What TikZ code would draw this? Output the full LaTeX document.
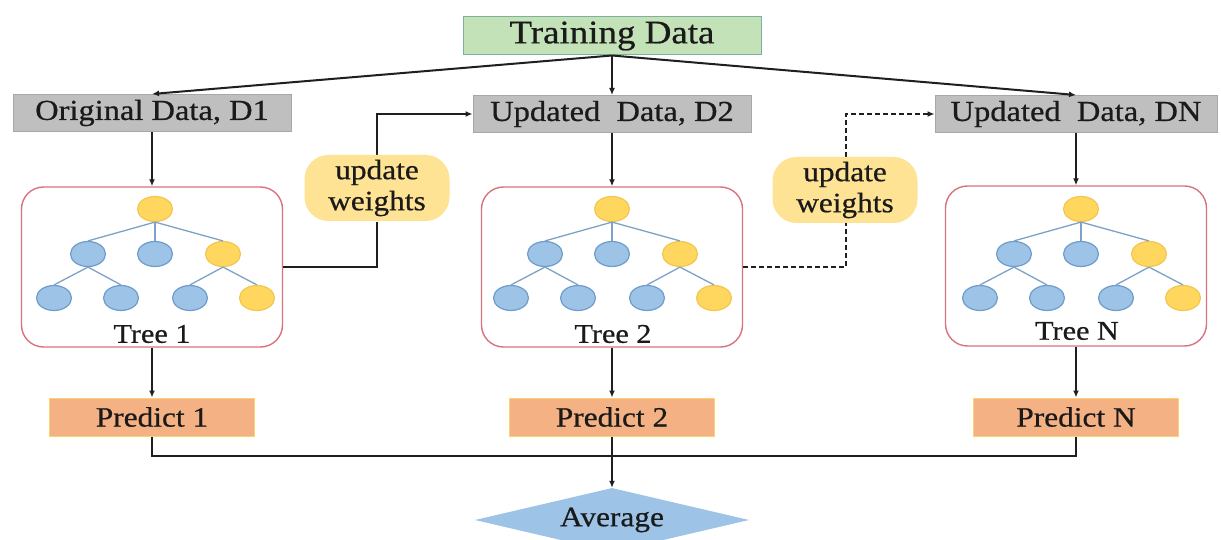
\documentclass[tikz,border=0pt]{standalone}
\usepackage{fontspec}
\setmainfont{Liberation Serif}[FakeStretch=1.12,FakeBold=0.6]
\usetikzlibrary{arrows.meta,shapes.geometric}

\definecolor{ink}{HTML}{1A1A1A}
\definecolor{greenfill}{HTML}{C4E2B8}
\definecolor{greenline}{HTML}{7FAF9E}
\definecolor{grayfill}{HTML}{BFBFBF}
\definecolor{grayline}{HTML}{A8A8A8}
\definecolor{treered}{HTML}{D9737E}
\definecolor{orangefill}{HTML}{F4B183}
\definecolor{orangeline}{HTML}{F9D36E}
\definecolor{bubblefill}{HTML}{FFE394}
\definecolor{bluefill}{HTML}{9DC3E6}
\definecolor{blueline}{HTML}{6E9CCB}
\definecolor{yellowfill}{HTML}{FFD75E}
\definecolor{yellowline}{HTML}{F2C650}
\definecolor{branch}{HTML}{7EA2C6}

% one decision tree: #1 name prefix, #2 x of the root
\newcommand\drawtree[2]{%
  \node[ynode] (#1r) at (#2,209) {};
  \node[bnode] (#1a) at (#2-67,254) {};
  \node[bnode] (#1b) at (#2,254) {};
  \node[ynode] (#1c) at (#2+68,254) {};
  \node[bnode] (#1d) at (#2-101,298) {};
  \node[bnode] (#1e) at (#2-34,298) {};
  \node[bnode] (#1f) at (#2+35,298) {};
  \node[ynode] (#1g) at (#2+102,298) {};
  \draw[branchline] (#1r.south) -- (#1a.north);
  \draw[branchline] (#1r.south) -- (#1b.north);
  \draw[branchline] (#1r.south) -- (#1c.north);
  \draw[branchline] (#1a.south) -- (#1d.north);
  \draw[branchline] (#1a.south) -- (#1e.north);
  \draw[branchline] (#1c.south) -- (#1f.north);
  \draw[branchline] (#1c.south) -- (#1g.north);
}

\begin{document}
\begin{tikzpicture}[x=1pt,y=-1pt,
  every node/.style={text=ink, inner sep=0pt},
  topbox/.style={draw=greenline, fill=greenfill, line width=1pt,
    minimum width=298pt, minimum height=38pt, font=\fontsize{33}{36}\selectfont},
  databox/.style={draw=grayline, fill=grayfill, line width=1pt,
    minimum height=37pt, font=\fontsize{29}{32}\selectfont},
  treebox/.style={draw=treered, fill=white, line width=1.4pt, rounded corners=22pt,
    minimum width=261pt, minimum height=160pt},
  treelabel/.style={font=\fontsize{27}{30}\selectfont},
  predbox/.style={draw=orangeline, fill=orangefill, line width=1pt,
    minimum width=205pt, minimum height=38pt, font=\fontsize{28}{31}\selectfont},
  bubble/.style={fill=bubblefill, rounded corners=24pt, minimum width=145pt,
    minimum height=66pt, align=center, font=\fontsize{28}{31}\selectfont},
  avgshape/.style={diamond, fill=bluefill, aspect=4.28, minimum width=274pt,
    minimum height=64pt, font=\fontsize{28}{31}\selectfont},
  bnode/.style={ellipse, draw=blueline, fill=bluefill, line width=1.2pt,
    minimum width=35pt, minimum height=25pt},
  ynode/.style={ellipse, draw=yellowline, fill=yellowfill, line width=1.2pt,
    minimum width=35pt, minimum height=25pt},
  branchline/.style={draw=branch, line width=1.3pt},
  conn/.style={draw=black!88, line width=2pt},
  arr/.style={conn, -{Latex[length=7pt,width=6pt]}},
  dasharr/.style={arr, dash pattern=on 5pt off 3pt}
]
\useasboundingbox (0,0) rectangle (1221,540);
\clip (0,0) rectangle (1221,540);
\fill[white] (0,0) rectangle (1221,540);

% data boxes
\node[topbox] (train) at (612,36) {Training Data};
\node[databox, minimum width=278pt] (d1) at (152,113) {Original Data, D1};
\node[databox, minimum width=278pt] (d2) at (612,114) {Updated\ \ Data, D2};
\node[databox, minimum width=282pt] (dn) at (1076,114) {Updated\ \ Data, DN};

% tree panels
\node[treebox] (t1) at (152,267) {};
\node[treebox] (t2) at (612,267) {};
\node[treebox] (tn) at (1076,266) {};
\drawtree{a}{155}
\drawtree{b}{612}
\drawtree{c}{1081}
\node[treelabel] (t1lab) at (152,334) {Tree 1};
\node[treelabel] (t2lab) at (613,334) {Tree 2};
\node[treelabel] (tnlab) at (1077,331) {Tree N};

% predictions and the average
\node[predbox] (p1) at (152,417) {Predict 1};
\node[predbox] (p2) at (612,417) {Predict 2};
\node[predbox] (pn) at (1076,417) {Predict N};
\node[avgshape] (avg) at (612,520) {Average};
\coordinate (join) at (612,456);

% weight updates between rounds
\draw[conn] (t1.east) -| (377,222);
\draw[arr] (377,155) |- (d2.west);
\node[bubble] (u1) at (377,188) {update\\weights};
\draw[conn, dash pattern=on 5pt off 3pt] (t2.east) -| (846,222);
\draw[dasharr] (846,157) |- (dn.west);
\node[bubble] (u2) at (845,190) {update\\weights};

% data flow
\draw[arr] (train.south) -- (d1.north);
\draw[arr] (train.south) -- (d2.north);
\draw[arr] (train.south) -- (dn.north);
\draw[arr] (d1.south) -- (t1.north);
\draw[arr] (d2.south) -- (t2.north);
\draw[arr] (dn.south) -- (tn.north);
\draw[arr] (t1.south) -- (p1.north);
\draw[arr] (t2.south) -- (p2.north);
\draw[arr] (tn.south) -- (pn.north);
\draw[conn] (p1.south) |- (join) -| (pn.south);
\draw[arr] (p2.south) -- (avg.north);
\end{tikzpicture}
\end{document}
